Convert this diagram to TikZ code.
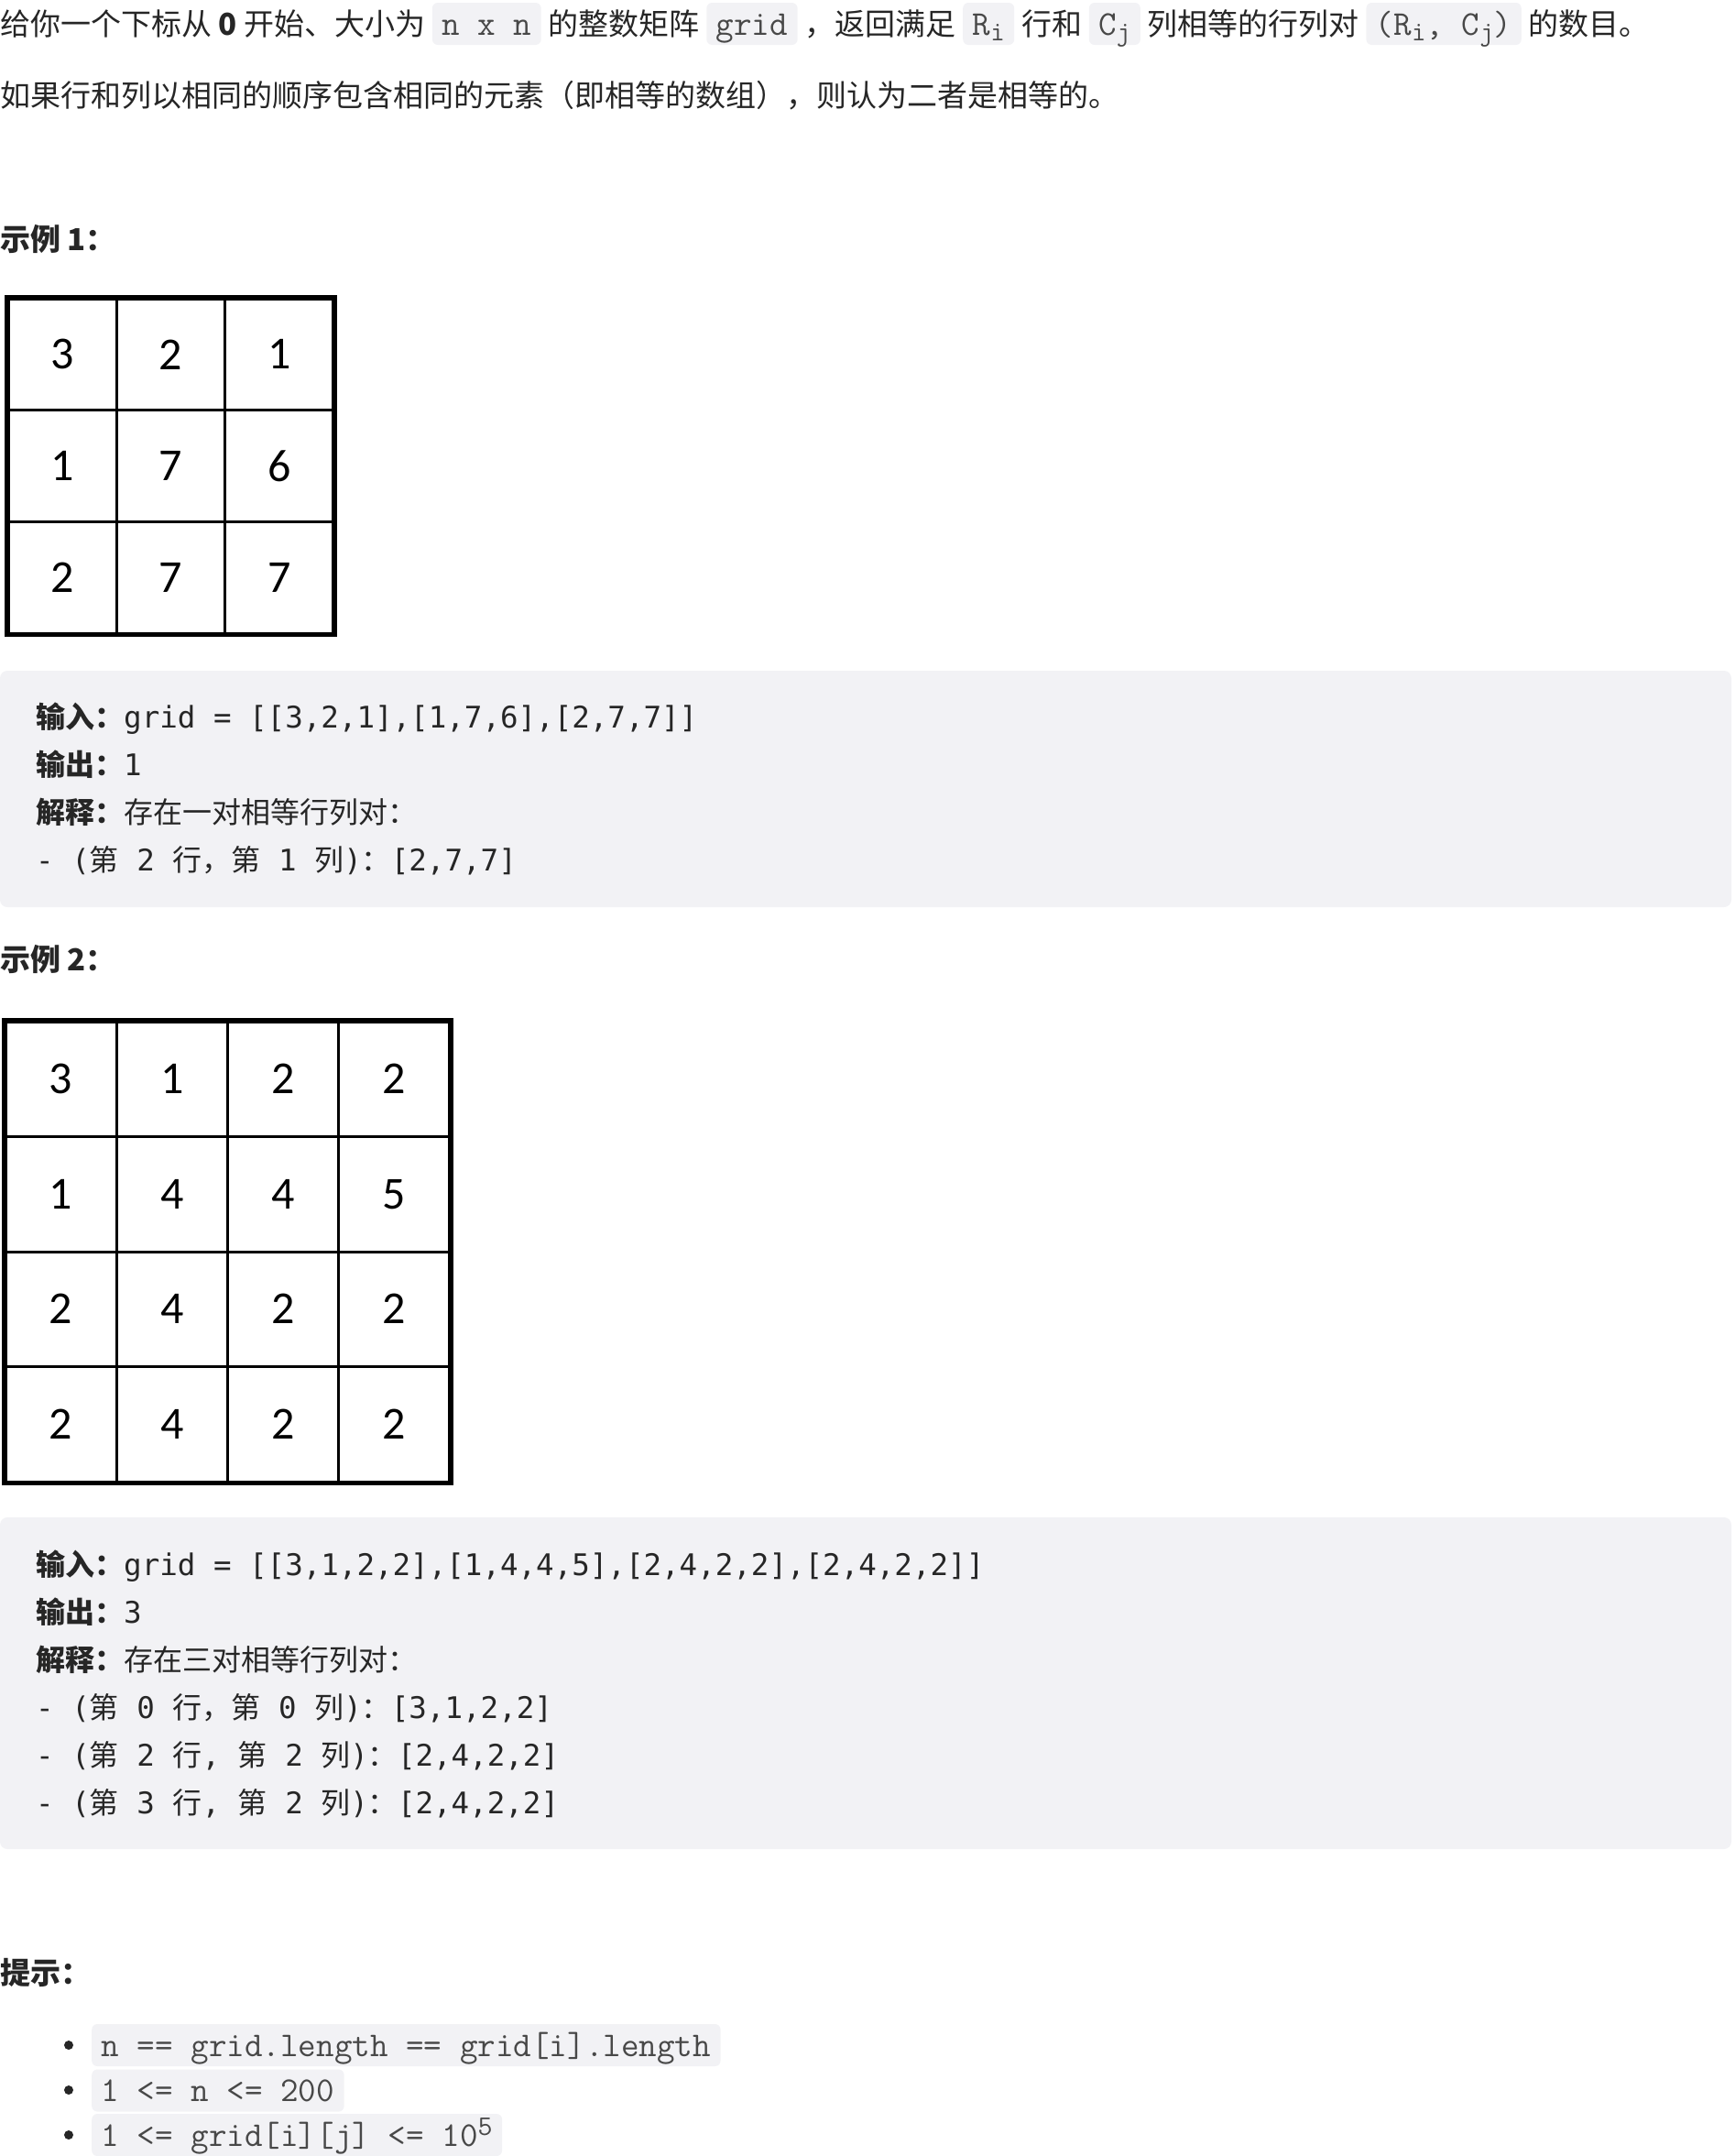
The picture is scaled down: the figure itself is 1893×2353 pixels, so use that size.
\documentclass[tikz,border=0pt]{standalone}
\usepackage{fontspec}
\setmainfont{Noto Sans CJK SC}
\newfontfamily\cbmono{DejaVu Sans Mono}
\newfontfamily\digitfont{Carlito}
\definecolor{bodyc}{RGB}{38,38,38}
\definecolor{codebg}{RGB}{242,242,245}
\definecolor{codefg}{RGB}{72,72,72}
\newcommand\subx[1]{\raisebox{-6pt}{\fontsize{30}{30}\selectfont #1}}
\newcommand\supx[1]{\raisebox{12pt}{\fontsize{31}{30}\selectfont #1}}
\newcommand\cbB[1]{{\fontsize{32}{40}\selectfont\bfseries #1}}
\newcommand\cbR[1]{{\fontsize{32}{40}\selectfont #1}}
\newcommand\cbM[1]{{\cbmono\fontsize{32.5}{40}\selectfont #1}}
\begin{document}
\begin{tikzpicture}[x=1pt,y=-1pt,
 body/.style={inner sep=0pt, anchor=base west, text=bodyc, font=\fontsize{33}{40}\selectfont},
 head/.style={inner sep=0pt, anchor=base west, text=bodyc, font=\fontsize{33}{40}\selectfont\bfseries},
 icode/.style={anchor=base west, fill=codebg, rounded corners=6pt, text=codefg, font=\ttfamily\fontsize{38}{40}\selectfont, inner xsep=10.5pt, inner ysep=10.5pt, text height=24.5pt, text depth=0.5pt},
 cline/.style={inner sep=0pt, anchor=base west, text=bodyc},
 cellA/.style={draw=black, line width=3pt, inner sep=0pt, minimum width=118.3pt, minimum height=121.7pt, font=\digitfont\fontsize{50}{50}\selectfont, text=black},
 cellB/.style={cellA, minimum width=121.2pt, minimum height=125.5pt},
 dot/.style={circle, fill=bodyc, inner sep=0pt, minimum size=10pt},
 frame/.style={draw=black, line width=4.5pt}
]
\path[use as bounding box] (0,0) rectangle (1893,2353);
\clip (0,0) rectangle (1893,2353);

% ---- line 1 ----
\node[body] (t1) at (0,38) {给你一个下标从 \textbf{0} 开始、大小为};
\node[icode] (k1) at ([xshift=7.4pt]t1.base east) {n x n};
\node[body] (t2) at ([xshift=7.4pt]k1.base east) {的整数矩阵};
\node[icode] (k2) at ([xshift=7.4pt]t2.base east) {grid};
\node[body] (t3) at ([xshift=7.4pt]k2.base east) {，返回满足};
\node[icode] (k3) at ([xshift=7.4pt]t3.base east) {R\subx{i}};
\node[body] (t4) at ([xshift=7.4pt]k3.base east) {行和};
\node[icode] (k4) at ([xshift=7.4pt]t4.base east) {C\subx{j}};
\node[body] (t5) at ([xshift=7.4pt]k4.base east) {列相等的行列对};
\node[icode] (k5) at ([xshift=7.4pt]t5.base east) {(R\subx{i}, C\subx{j})};
\node[body] (t6) at ([xshift=7.4pt]k5.base east) {的数目。};

% ---- line 2 ----
\node[body] (l2) at (0,116) {如果行和列以相同的顺序包含相同的元素（即相等的数组），则认为二者是相等的。};

% ---- example 1 ----
\node[head] (e1) at (0,273.5) {示例 1：};

\node[cellA] (g11) at (68.15,386.85) {3};
\node[cellA] (g12) at (186.45,386.85) {2};
\node[cellA] (g13) at (304.75,386.85) {1};
\node[cellA] (g21) at (68.15,508.55) {1};
\node[cellA] (g22) at (186.45,508.55) {7};
\node[cellA] (g23) at (304.75,508.55) {6};
\node[cellA] (g31) at (68.15,630.25) {2};
\node[cellA] (g32) at (186.45,630.25) {7};
\node[cellA] (g33) at (304.75,630.25) {7};
\draw[frame] (g11.north west) rectangle (g33.south east);

\path[fill=codebg, rounded corners=8pt] (0,732) rectangle (1890,990);
\node[cline] (a1) at (39,794) {\cbB{输入：}\cbM{grid = [[3,2,1],[1,7,6],[2,7,7]]}};
\node[cline] (a2) at (39,846) {\cbB{输出：}\cbM{1}};
\node[cline] (a3) at (39,898) {\cbB{解释：}\cbR{存在一对相等行列对：}};
\node[cline] (a4) at (39,950) {\cbM{- (}\cbR{第}\cbM{ 2 }\cbR{行，第}\cbM{ 1 }\cbR{列}\cbM{)}\cbR{：}\cbM{[2,7,7]}};

% ---- example 2 ----
\node[head] (e2) at (0,1059.5) {示例 2：};

\node[cellB] (h11) at (66.6,1177.75) {3};
\node[cellB] (h12) at (187.8,1177.75) {1};
\node[cellB] (h13) at (309.0,1177.75) {2};
\node[cellB] (h14) at (430.2,1177.75) {2};
\node[cellB] (h21) at (66.6,1303.25) {1};
\node[cellB] (h22) at (187.8,1303.25) {4};
\node[cellB] (h23) at (309.0,1303.25) {4};
\node[cellB] (h24) at (430.2,1303.25) {5};
\node[cellB] (h31) at (66.6,1428.75) {2};
\node[cellB] (h32) at (187.8,1428.75) {4};
\node[cellB] (h33) at (309.0,1428.75) {2};
\node[cellB] (h34) at (430.2,1428.75) {2};
\node[cellB] (h41) at (66.6,1554.25) {2};
\node[cellB] (h42) at (187.8,1554.25) {4};
\node[cellB] (h43) at (309.0,1554.25) {2};
\node[cellB] (h44) at (430.2,1554.25) {2};
\draw[frame] (h11.north west) rectangle (h44.south east);

\path[fill=codebg, rounded corners=8pt] (0,1656) rectangle (1890,2018);
\node[cline] (m1) at (39,1719) {\cbB{输入：}\cbM{grid = [[3,1,2,2],[1,4,4,5],[2,4,2,2],[2,4,2,2]]}};
\node[cline] (m2) at (39,1771) {\cbB{输出：}\cbM{3}};
\node[cline] (m3) at (39,1823) {\cbB{解释：}\cbR{存在三对相等行列对：}};
\node[cline] (m4) at (39,1875) {\cbM{- (}\cbR{第}\cbM{ 0 }\cbR{行，第}\cbM{ 0 }\cbR{列}\cbM{)}\cbR{：}\cbM{[3,1,2,2]}};
\node[cline] (m5) at (39,1927) {\cbM{- (}\cbR{第}\cbM{ 2 }\cbR{行}\cbM{, }\cbR{第}\cbM{ 2 }\cbR{列}\cbM{)}\cbR{：}\cbM{[2,4,2,2]}};
\node[cline] (m6) at (39,1979) {\cbM{- (}\cbR{第}\cbM{ 3 }\cbR{行}\cbM{, }\cbR{第}\cbM{ 2 }\cbR{列}\cbM{)}\cbR{：}\cbM{[2,4,2,2]}};

% ---- hints ----
\node[head] (e3) at (0,2165) {提示：};
\node[dot] (b1) at (75,2232) {};
\node[dot] (b2) at (75,2281) {};
\node[dot] (b3) at (75,2330) {};
\node[icode] (p1) at (100,2244) {n == grid.length == grid[i].length};
\node[icode] (p2) at (100,2293.5) {1 <= n <= 200};
\node[icode] (p3) at (100,2342) {1 <= grid[i][j] <= 10\supx{5}};
\end{tikzpicture}
\end{document}
